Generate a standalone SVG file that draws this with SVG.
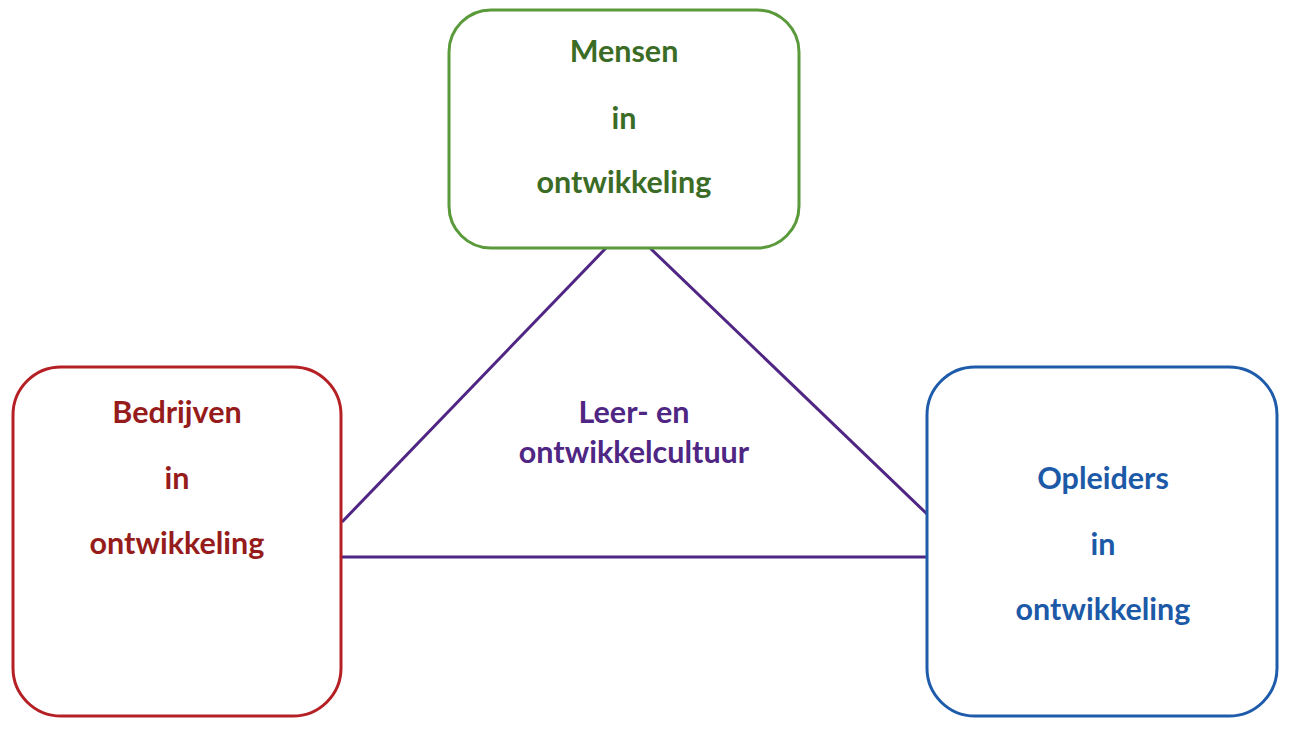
<svg xmlns="http://www.w3.org/2000/svg" width="1299" height="732" viewBox="0 0 1299 732">
<style>
.box{fill:#fff;stroke-width:3}
.t{font-family:Lato,"Liberation Sans",sans-serif;font-weight:bold;font-size:30.5px;text-anchor:middle}
.c{stroke:#4f2683;stroke-width:3;fill:none}
</style>
<rect width="1299" height="732" fill="#fff"/>
<g id="connectors">
<line class="c" x1="606" y1="248" x2="342" y2="522"/>
<line class="c" x1="650" y1="248" x2="927" y2="514"/>
<line class="c" x1="342" y1="557" x2="927" y2="557"/>
</g>
<g id="mensen">
<rect class="box" x="449" y="10" width="350" height="238" rx="42" stroke="#5a9a3a"/>
<text class="t" fill="#3b6c26" x="624" y="62">Mensen</text>
<text class="t" fill="#3b6c26" x="624" y="129">in</text>
<text class="t" fill="#3b6c26" x="624" y="193">ontwikkeling</text>
</g>
<g id="bedrijven">
<rect class="box" x="13" y="367" width="328" height="349" rx="48" stroke="#b52025"/>
<text class="t" fill="#961c1c" x="177" y="423">Bedrijven</text>
<text class="t" fill="#961c1c" x="177" y="489">in</text>
<text class="t" fill="#961c1c" x="177" y="554">ontwikkeling</text>
</g>
<g id="opleiders">
<rect class="box" x="927" y="367" width="350" height="349" rx="48" stroke="#1e5cab"/>
<text class="t" fill="#1c5aa8" x="1103" y="489">Opleiders</text>
<text class="t" fill="#1c5aa8" x="1103" y="555">in</text>
<text class="t" fill="#1c5aa8" x="1103" y="620">ontwikkeling</text>
</g>
<g id="cultuur">
<text class="t" fill="#4f2683" x="634" y="423">Leer- en</text>
<text class="t" fill="#4f2683" x="634" y="463">ontwikkelcultuur</text>
</g>
</svg>
